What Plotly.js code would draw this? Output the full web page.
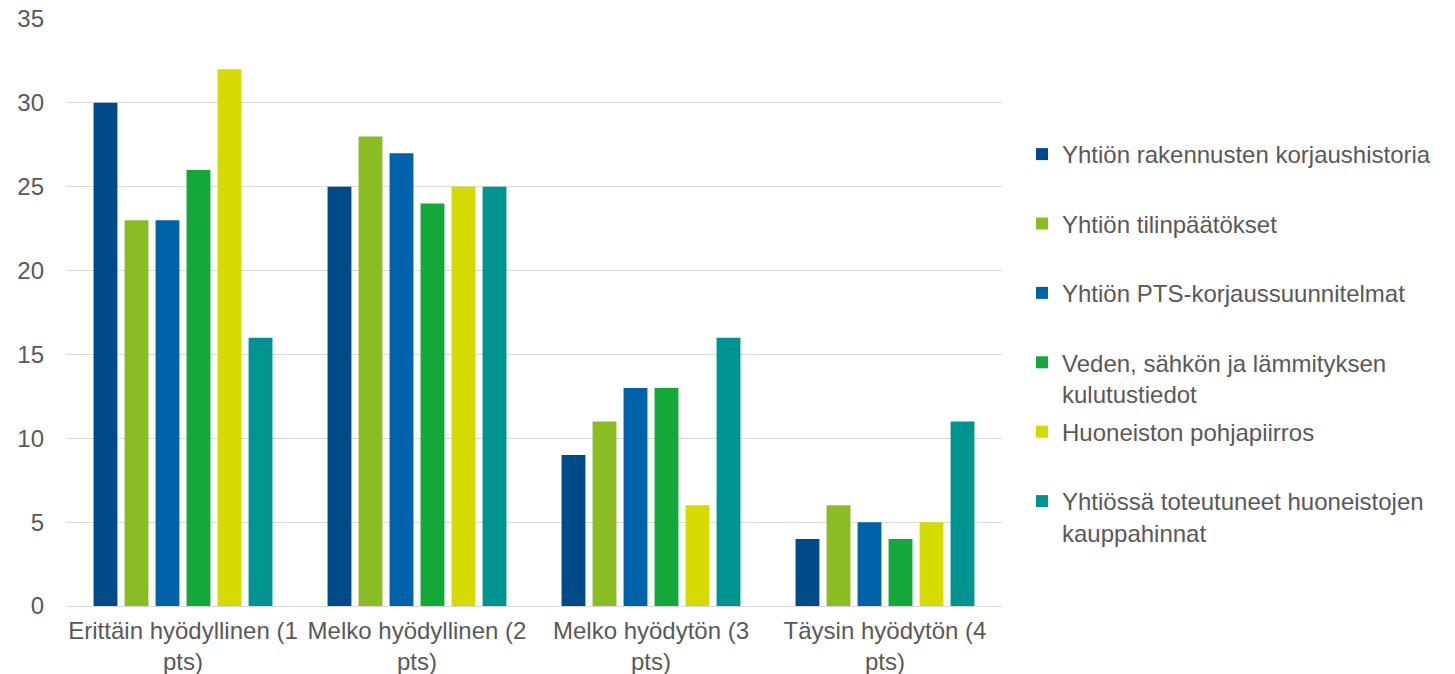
<!DOCTYPE html>
<html><head><meta charset="utf-8">
<script src="https://cdn.plot.ly/plotly-3.0.1.min.js"></script>
<style>body{margin:0;background:#fff}#c{width:1455px;height:674px}</style>
</head><body><div id="c"></div>
<script>
const categories = ["Erittäin hyödyllinen (1<br>pts)", "Melko hyödyllinen (2<br>pts)", "Melko hyödytön (3<br>pts)", "Täysin hyödytön (4<br>pts)"];
const seriesNames = [
  "Yhtiön rakennusten korjaushistoria<br>\u00a0",
  "Yhtiön tilinpäätökset<br>\u00a0",
  "Yhtiön PTS-korjaussuunnitelmat<br>\u00a0",
  "Veden, sähkön ja lämmityksen<br>kulutustiedot",
  "Huoneiston pohjapiirros<br>\u00a0",
  "Yhtiössä toteutuneet huoneistojen<br>kauppahinnat"
];
const korjaushistoria = [30, 25, 9, 4];
const tilinpaatokset = [23, 28, 11, 6];
const pts = [23, 27, 13, 5];
const kulutustiedot = [26, 24, 13, 4];
const pohjapiirros = [32, 25, 6, 5];
const kauppahinnat = [16, 25, 16, 11];
const seriesValues = [korjaushistoria, tilinpaatokset, pts, kulutustiedot, pohjapiirros, kauppahinnat];
const colors = ["#004A87", "#8ABD24", "#0062A8", "#14A83B", "#D5DA00", "#009490"];
const yTicks = [0, 5, 10, 15, 20, 25, 30, 35];

const font = {family: "Liberation Sans, Arial, sans-serif", size: 24, color: "#595959"};
const traces = seriesValues.map((v, i) => ({
  type: "bar", x: categories, y: v, name: seriesNames[i],
  marker: {color: colors[i]}, legendgroup: "g" + i, hoverinfo: "y"
}));
const layout = {
  width: 1455, height: 674,
  margin: {l: 66, r: 453, t: 19, b: 68},
  paper_bgcolor: "#fff", plot_bgcolor: "#fff",
  font: font,
  barmode: "group", bargap: 0.205, bargroupgap: 0.23,
  xaxis: {showgrid: false, showline: true, linecolor: "#D9D9D9", linewidth: 1, ticks: "", tickfont: font, ticklabelstandoff: 3},
  yaxis: {range: [0, 35], tickvals: yTicks, showgrid: true, gridcolor: "#D9D9D9", gridwidth: 1, zeroline: false, showline: false, ticks: "", tickfont: font, ticklabelstandoff: 21},
  legend: {xref: "container", yref: "container", x: 1022/1455, y: 1 - 132/674, xanchor: "left", yanchor: "top",
    font: font, valign: "top", tracegroupgap: 4, itemwidth: 30, maxheight: 674, bgcolor: "rgba(0,0,0,0)"},
  showlegend: true
};
Plotly.newPlot("c", traces, layout, {staticPlot: true});
</script></body></html>
